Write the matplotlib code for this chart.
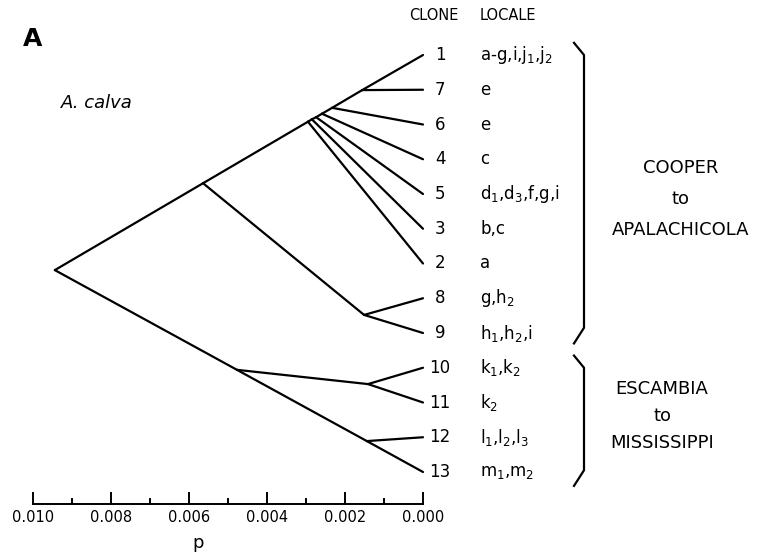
import numpy as np
import matplotlib.pyplot as plt

# --- data -----------------------------------------------------------------
# tips, top to bottom (all end at p = 0.000)
clones = ['1', '7', '6', '4', '5', '3', '2', '8', '9', '10', '11', '12', '13']
locales = [r'a-g,i,j$_1$,j$_2$', 'e', 'e', 'c', r'd$_1$,d$_3$,f,g,i', 'b,c', 'a',
           r'g,h$_2$', r'h$_1$,h$_2$,i', r'k$_1$,k$_2$', r'k$_2$',
           r'l$_1$,l$_2$,l$_3$', r'm$_1$,m$_2$']
tip_p = [0.0] * len(clones)

# internal nodes: name -> (p, vertical position in tip units)
node_names = ['root', 'A', 'n2', 'n3', 'n5', 'n4', 'n6', 'n7', 'n89', 'B', 'n1011', 'n1213']
node_p = [0.00944, 0.00564, 0.00295, 0.00285, 0.00274, 0.00259, 0.00233, 0.00156,
          0.00151, 0.00477, 0.00141, 0.00144]
node_y = [6.19, 3.69, 1.92, 1.85, 1.79, 1.69, 1.52, 1.01, 7.48, 9.06, 9.47, 11.11]

edges = [('root', 'A'), ('A', 'n2'), ('n2', '2'), ('n2', 'n3'), ('n3', '3'),
         ('n3', 'n5'), ('n5', '5'), ('n5', 'n4'), ('n4', '4'), ('n4', 'n6'),
         ('n6', '6'), ('n6', 'n7'), ('n7', '7'), ('n7', '1'),
         ('A', 'n89'), ('n89', '8'), ('n89', '9'),
         ('root', 'B'), ('B', 'n1011'), ('n1011', '10'), ('n1011', '11'),
         ('B', 'n1213'), ('n1213', '12'), ('n1213', '13')]

groups = [('COOPER\nto\nAPALACHICOLA', '1', '9'), ('ESCAMBIA\nto\nMISSISSIPPI', '10', '13')]
scale_ticks = np.arange(0, 11) * 0.001
scale_labels = ['0.000', '0.002', '0.004', '0.006', '0.008', '0.010']

# --- layout (pixel geometry of the 758x556 figure) --------------------------
W, H = 758, 556
X0, PX_PER_P = 423, 78 / 0.002   # pixel of p=0, pixels per unit p
Y0, DY = 55, 34.75               # pixel of first tip, pixels per tip


def px2p(x):
    return (X0 - x) / PX_PER_P


def px2i(y):
    return (y - Y0) / DY


pos = {n: (p, y) for n, p, y in zip(node_names, node_p, node_y)}
for i, (c, p) in enumerate(zip(clones, tip_p)):
    pos[c] = (p, i)

fig = plt.figure(figsize=(W / 100, H / 100), dpi=100)
ax = fig.add_axes([0, 0, 1, 1])
ax.set_xlim(px2p(0), px2p(W))
ax.set_ylim(px2i(H), px2i(0))
ax.axis('off')

lw = 1.6
for a, b in edges:
    (x1, y1), (x2, y2) = pos[a], pos[b]
    ax.plot([x1, x2], [y1, y2], color='black', lw=lw, solid_capstyle='round')

# tip labels
for i, (c, loc) in enumerate(zip(clones, locales)):
    ax.text(px2p(440), i, c, ha='center', va='center', fontsize=12)
    ax.text(px2p(480), i, loc, ha='left', va='center', fontsize=12)

ax.text(px2p(434), px2i(16), 'CLONE', ha='center', va='center', fontsize=10.5)
ax.text(px2p(480), px2i(16), 'LOCALE', ha='left', va='center', fontsize=10.5)
ax.text(px2p(33), px2i(39), 'A', ha='center', va='center', fontsize=18, fontweight='bold')
ax.text(px2p(97), px2i(103), 'A. calva', ha='center', va='center', fontsize=13, style='italic')

# braces and region names
name_shift = [0.14, -0.1]
name_spacing = [1.95, 1.65]
name_x = [681, 662]
for k, (name, first, last) in enumerate(groups):
    top = clones.index(first) - 0.35
    bot = clones.index(last) + (0.2 if k == 0 else 0.3)
    xv, xh = px2p(584), px2p(574)
    ax.plot([xh, xv, xv, xh], [top, top + 0.35, bot - 0.35, bot + 0.1],
            color='black', lw=lw, solid_joinstyle='round')
    mid = (clones.index(first) + clones.index(last)) / 2
    ax.text(px2p(name_x[k]), mid + name_shift[k], name, ha='center', va='center',
            fontsize=13, linespacing=name_spacing[k])

# scale bar
ybar = px2i(504)
ax.plot([scale_ticks[0], scale_ticks[-1]], [ybar, ybar], color='black', lw=1.4)
for j, t in enumerate(scale_ticks):
    h = px2i(504) - px2i(493 if j % 2 == 0 else 499)
    ax.plot([t, t], [ybar, ybar - h], color='black', lw=1.4)
for t, lab in zip(scale_ticks[::2], scale_labels):
    ax.text(t, px2i(518), lab, ha='center', va='center', fontsize=10.5)
ax.text(px2p(198), px2i(543), 'p', ha='center', va='center', fontsize=13)

fig.savefig('out.png', dpi=100)
